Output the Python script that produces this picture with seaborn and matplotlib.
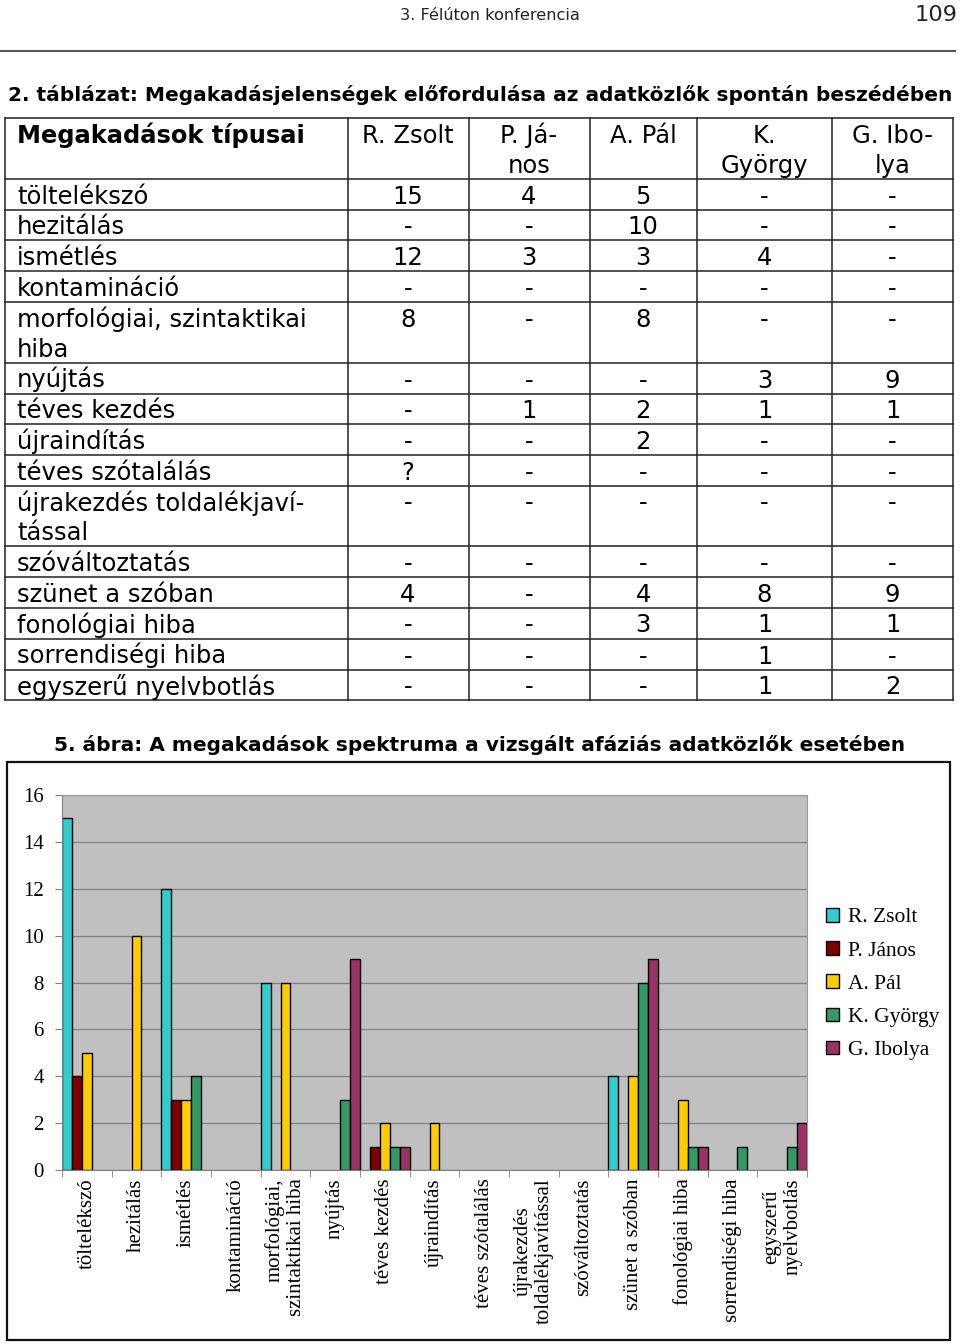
import matplotlib
matplotlib.use("Agg")
import matplotlib.pyplot as plt
import seaborn as sns
import pandas as pd
from matplotlib.patches import Rectangle

# ---------------- data ----------------
categories = ["töltelékszó", "hezitálás", "ismétlés", "kontamináció",
              "morfológiai, szintaktikai hiba", "nyújtás", "téves kezdés",
              "újraindítás", "téves szótalálás", "újrakezdés toldalékjavítással",
              "szóváltoztatás", "szünet a szóban", "fonológiai hiba",
              "sorrendiségi hiba", "egyszerű nyelvbotlás"]
table_row_labels = ["töltelékszó", "hezitálás", "ismétlés", "kontamináció",
                    "morfológiai, szintaktikai\nhiba", "nyújtás", "téves kezdés",
                    "újraindítás", "téves szótalálás", "újrakezdés toldalékjaví-\ntással",
                    "szóváltoztatás", "szünet a szóban", "fonológiai hiba",
                    "sorrendiségi hiba", "egyszerű nyelvbotlás"]
chart_tick_labels = ["töltelékszó", "hezitálás", "ismétlés", "kontamináció",
                     "morfológiai,\nszintaktikai hiba", "nyújtás", "téves kezdés",
                     "újraindítás", "téves szótalálás", "újrakezdés\ntoldalékjavítással",
                     "szóváltoztatás", "szünet a szóban", "fonológiai hiba",
                     "sorrendiségi hiba", "egyszerű\nnyelvbotlás"]
persons = ["R. Zsolt", "P. János", "A. Pál", "K. György", "G. Ibolya"]
person_headers = ["R. Zsolt", "P. Já-\nnos", "A. Pál", "K.\nGyörgy", "G. Ibo-\nlya"]

r_zsolt  = [15, None, 12, None, 8, None, None, None, "?", None, None, 4, None, None, None]
p_janos  = [4, None, 3, None, None, None, 1, None, None, None, None, None, None, None, None]
a_pal    = [5, 10, 3, None, 8, None, 2, 2, None, None, None, 4, 3, None, None]
k_gyorgy = [None, None, 4, None, None, 3, 1, None, None, None, None, 8, 1, 1, 1]
g_ibolya = [None, None, None, None, None, 9, 1, None, None, None, None, 9, 1, None, 2]
series = [r_zsolt, p_janos, a_pal, k_gyorgy, g_ibolya]

colors = ["#33CCCC", "#800000", "#FFCC00", "#339966", "#993366"]

page_header = "3. Félúton konferencia"
page_number = "109"
table_title = "2. táblázat: Megakadásjelenségek előfordulása az adatközlők spontán beszédében"
first_col_header = "Megakadások típusai"
chart_title = "5. ábra: A megakadások spektruma a vizsgált afáziás adatközlők esetében"

# ---------------- figure ----------------
plt.rcParams["font.family"] = ["DejaVu Sans"]
fig = plt.figure(figsize=(9.6, 13.44), dpi=100)
bg = fig.add_axes([0, 0, 1, 1])
bg.set_xlim(0, 960)
bg.set_ylim(1344, 0)
bg.axis("off")

renderer = fig.canvas.get_renderer()


def fit(t, target_w):
    for _ in range(3):
        w = t.get_window_extent(renderer).width
        t.set_fontsize(t.get_fontsize() * target_w / w)


# page header
t = bg.text(490, 20, page_header, ha="center", va="baseline", fontsize=11, color="#222222")
fit(t, 180)
t = bg.text(958, 21, page_number, ha="right", va="baseline", fontsize=16, color="#222222")
fit(t, 43)
bg.plot([0, 955], [51, 51], color="#555555", lw=1.5)

# table title
t = bg.text(480, 101, table_title, ha="center", va="baseline", fontsize=13, fontweight="bold")
fit(t, 942)

# ---------------- table ----------------
col_x = [5, 347.5, 468.5, 589.5, 697, 832, 953]
row_y = [118, 179, 209.5, 240, 271, 302, 362.5, 393.5, 424, 455, 485.5,
         546, 577, 607.5, 638.5, 669.5, 700]
fs = 17.5
for x in col_x:
    bg.plot([x, x], [row_y[0], row_y[-1]], color="#222222", lw=1.1)
for y in row_y:
    bg.plot([col_x[0], col_x[-1]], [y, y], color="#222222", lw=1.1)

t = bg.text(17, row_y[0] + 25, first_col_header, ha="left", va="baseline",
            fontsize=fs, fontweight="bold")
fit(t, 288)
for j, hdr in enumerate(person_headers):
    cx = (col_x[j + 1] + col_x[j + 2]) / 2
    for k, line in enumerate(hdr.split("\n")):
        bg.text(cx, row_y[0] + 25 + 30 * k, line, ha="center", va="baseline", fontsize=fs)

for i, lab in enumerate(table_row_labels):
    top = row_y[i + 1]
    for k, line in enumerate(lab.split("\n")):
        bg.text(17, top + 25 + 30 * k, line, ha="left", va="baseline", fontsize=fs)
    for j, s in enumerate(series):
        v = s[i]
        txt = "-" if v is None else str(v)
        cx = (col_x[j + 1] + col_x[j + 2]) / 2
        bg.text(cx, top + 25, txt, ha="center", va="baseline", fontsize=fs)

# chart caption
t = bg.text(479.5, 751, chart_title, ha="center", va="baseline", fontsize=13, fontweight="bold")
fit(t, 852)

# chart frame
bg.add_patch(Rectangle((7, 762), 943, 578, fill=False, edgecolor="#111111", lw=1.6))

# ---------------- chart ----------------
rows = []
for p, s in zip(persons, series):
    for c, v in zip(categories, s):
        if isinstance(v, int):
            rows.append({"category": c, "person": p, "value": v})
df = pd.DataFrame(rows)

ax = fig.add_axes([62 / 960, 1 - 1170 / 1344, 745 / 960, 375 / 1344])
ax.set_facecolor("#C0C0C0")
sns.barplot(data=df, x="category", y="value", hue="person", order=categories,
            hue_order=persons, palette=colors, width=1.0, saturation=1,
            edgecolor="black", linewidth=1.0, ax=ax, legend=False)
ax.set_xlim(-0.5, len(categories) - 0.5)
ax.set_ylim(0, 16)
ax.set_yticks(range(0, 17, 2))
ax.yaxis.grid(True, color="#808080", lw=0.9)
ax.set_axisbelow(True)
ax.set_xlabel("")
ax.set_ylabel("")
for sp in ["left", "bottom"]:
    ax.spines[sp].set_color("#808080")
for sp in ["top", "right"]:
    ax.spines[sp].set_color("#9a9a9a")
    ax.spines[sp].set_linewidth(0.8)

ax.set_xticks(range(len(categories)))
ax.set_xticklabels(chart_tick_labels, rotation=90, ha="center", va="top",
                   fontfamily="Liberation Serif", fontsize=15, multialignment="center")
ax.set_xticks([i - 0.5 for i in range(len(categories) + 1)], minor=True)
ax.tick_params(axis="x", which="major", length=0, pad=6)
ax.tick_params(axis="x", which="minor", length=5, color="#808080")
ax.tick_params(axis="y", length=5, color="#808080", pad=8)
for lbl in ax.get_yticklabels():
    lbl.set_fontfamily("Liberation Serif")
    lbl.set_fontsize(15)
# morphological label lines are aligned at the top
ax.get_xticklabels()[4].set_multialignment("right")

handles = [Rectangle((0, 0), 1, 1, facecolor=c, edgecolor="black", lw=1.0) for c in colors]
fig.legend(handles, persons, loc="upper left",
           bbox_to_anchor=(826 / 960, 1 - 908 / 1344), frameon=False,
           prop={"family": "Liberation Serif", "size": 15.5},
           handlelength=0.6, handleheight=0.6, handletextpad=0.4,
           labelspacing=0.64, borderaxespad=0, borderpad=0)

fig.savefig("out.png", dpi=100)
